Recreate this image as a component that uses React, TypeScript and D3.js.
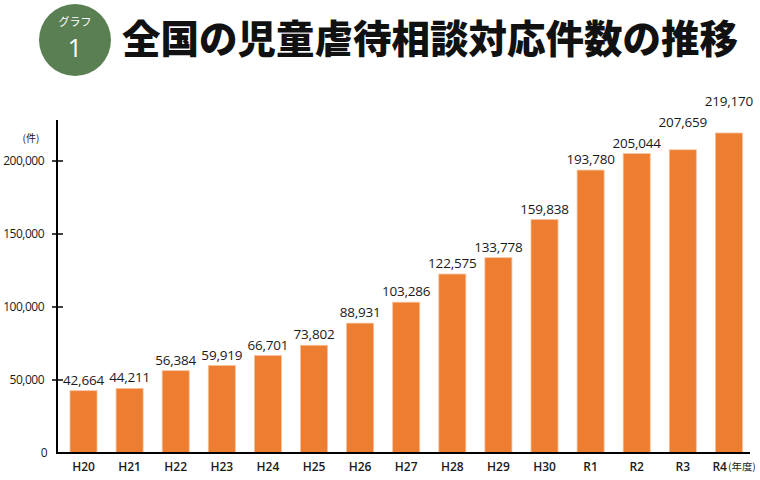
import React from "react";
import * as d3 from "d3";

const categories = ["H20","H21","H22","H23","H24","H25","H26","H27","H28","H29","H30","R1","R2","R3","R4"];
const values = [42664,44211,56384,59919,66701,73802,88931,103286,122575,133778,159838,193780,205044,207659,219170];
const yTicks = [0,50000,100000,150000,200000];
const titleText = "全国の児童虐待相談対応件数の推移";
const badgeTop = "グラフ";
const badgeNum = "1";
const yUnit = "(件)";
const xUnit = "(年度)";

export default function App() {
  const W = 760, H = 480;
  const x0 = 57, yBase = 453;
  const y = d3.scaleLinear().domain([0, 200000]).range([yBase, 161]);
  const step = 46.1, pIn = 0.414, pOut = 0.28;
  const r0 = 70 - pOut * step;
  const x = d3.scaleBand<string>().domain(categories)
    .range([r0, r0 + step * (categories.length - pIn + 2 * pOut)])
    .paddingInner(pIn).paddingOuter(pOut);
  const fmt = d3.format(",");
  const sans = "'Open Sans', 'Noto Sans', sans-serif";
  const jp = "'Noto Sans CJK JP', sans-serif";
  const bw = x.bandwidth();
  const cx = (c: string) => (x(c) as number) + bw / 2;

  // label placement with simple collision avoidance
  const estW = (s: string) => s.replace(/,/g, "").length * 7.6 + (s.match(/,/g) || []).length * 3.4;
  const labelY: number[] = [];
  values.forEach((v, i) => {
    let ly = y(v) - 6;
    if (i > 0) {
      const prevW = estW(fmt(values[i - 1]));
      const curW = estW(fmt(v));
      const hOverlap = (prevW + curW) / 2 > step;
      if (hOverlap && Math.abs(ly - labelY[i - 1]) < 14) ly = labelY[i - 1] - 21;
    }
    labelY.push(ly);
  });

  return (
    <svg width={W} height={H} style={{ position: "absolute", left: 0, top: 0, background: "#fff" }}>
      <circle cx={75} cy={40} r={36} fill="#5A7F53" />
      <text x={75} y={26} textAnchor="middle" fill="#fff" fontSize={11} fontFamily={jp}>{badgeTop}</text>
      <text x={75} y={57} textAnchor="middle" fill="#fff" fontSize={25} fontFamily={sans}>{badgeNum}</text>
      <text x={122} y={53} fontSize={39} fontWeight={900} fontFamily={jp} fill="#111" textLength={616} lengthAdjust="spacingAndGlyphs">{titleText}</text>

      {categories.map((c, i) => (
        <g key={c}>
          <rect x={x(c)} y={y(values[i])} width={bw} height={yBase - y(values[i])} fill="#ED7D31" stroke="#F5C09A" strokeWidth={0.8} />
          <text x={cx(c)} y={labelY[i]} textAnchor="middle" fontSize={13.5} fontFamily={sans} fill="#1a1a1a" letterSpacing={-0.2}>{fmt(values[i])}</text>
          {i < categories.length - 1 && (
            <text x={cx(c)} y={471} textAnchor="middle" fontSize={12} fontWeight={600} fontFamily={sans} fill="#1a1a1a">{c}</text>
          )}
        </g>
      ))}
      <text x={cx(categories[categories.length - 1]) - 2} y={471} textAnchor="end" fontSize={12} fontWeight={600} fontFamily={sans} fill="#1a1a1a">{categories[categories.length - 1]}</text>
      <text x={cx(categories[categories.length - 1]) - 1} y={470} fontSize={9.5} fontFamily={jp} fill="#1a1a1a" textLength={28} lengthAdjust="spacingAndGlyphs">{xUnit}</text>

      <line x1={x0} x2={x0} y1={120} y2={yBase} stroke="#000" strokeWidth={2} />
      <line x1={x0 - 1} x2={750} y1={yBase} y2={yBase} stroke="#000" strokeWidth={2} />
      {yTicks.map(t => (
        <g key={t}>
          {t > 0 && <line x1={52} x2={63} y1={y(t)} y2={y(t)} stroke="#000" strokeWidth={1.5} />}
          <text x={t > 0 ? 44 : 47} y={y(t) + 4} textAnchor="end" fontSize={12} fontFamily={sans} fill="#1a1a1a" letterSpacing={-0.5}>{fmt(t)}</text>
        </g>
      ))}
      <text x={31} y={142} textAnchor="middle" fontSize={10} fontFamily={jp} fill="#1a1a1a">{yUnit}</text>
    </svg>
  );
}
